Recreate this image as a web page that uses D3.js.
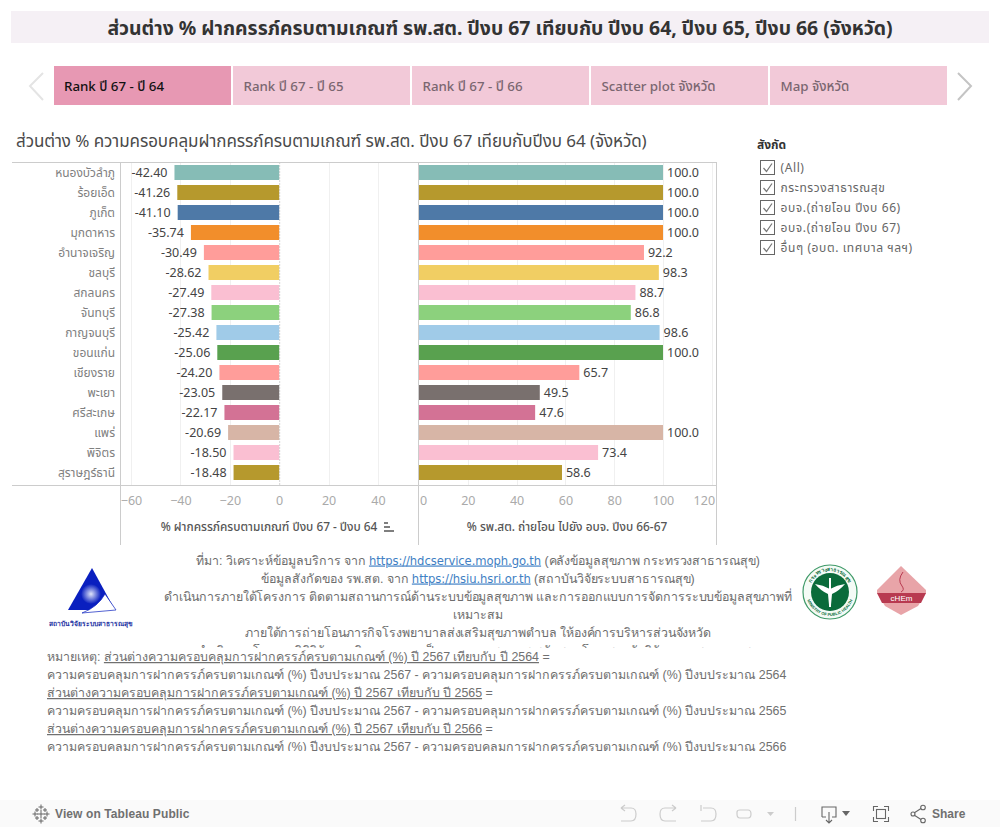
<!DOCTYPE html>
<html lang="th"><head><meta charset="utf-8">
<script src="https://cdnjs.cloudflare.com/ajax/libs/d3/7.8.5/d3.min.js"></script>
<style>
html,body{margin:0;padding:0;background:#fff;overflow:hidden}
svg{display:block}
text{font-family:"Noto Sans","Noto Sans Thai",Roboto,sans-serif}
text.plain{font-family:"Liberation Sans","Noto Sans",sans-serif}
tspan.url{font-family:"DejaVu Sans",sans-serif;font-size:11.6px}
</style></head><body>
<div id="chart"></div>
<script>
const provinces=["หนองบัวลำภู","ร้อยเอ็ด","ภูเก็ต","มุกดาหาร","อำนาจเจริญ","ชลบุรี","สกลนคร","จันทบุรี","กาญจนบุรี","ขอนแก่น","เชียงราย","พะเยา","ศรีสะเกษ","แพร่","พิจิตร","สุราษฎร์ธานี"];
const diffValues=[-42.40,-41.26,-41.10,-35.74,-30.49,-28.62,-27.49,-27.38,-25.42,-25.06,-24.20,-23.05,-22.17,-20.69,-18.50,-18.48];
const transferValues=[100,100,100,100,92.2,98.3,88.7,86.8,98.6,100,65.7,49.5,47.6,100,73.4,58.6];
const barColors=["#86bcb6","#b6992d","#4e79a7","#f28e2b","#ff9d9a","#f1ce63","#fabfd2","#8cd17d","#a0cbe8","#59a14f","#ff9d9a","#79706e","#d37295","#d7b5a6","#fabfd2","#b6992d"];
const diffTicks=[-60,-40,-20,0,20,40];
const transferTicks=[0,20,40,60,80,100,120];
const tabLabels=["Rank ปี 67 - ปี 64","Rank ปี 67 - ปี 65","Rank ปี 67 - ปี 66","Scatter plot จังหวัด","Map จังหวัด"];
const filterLabels=["(All)","กระทรวงสาธารณสุข","อบจ.(ถ่ายโอน ปีงบ 66)","อบจ.(ถ่ายโอน ปีงบ 67)","อื่นๆ (อบต. เทศบาล ฯลฯ)"];
const mainTitle="ส่วนต่าง % ฝากครรภ์ครบตามเกณฑ์ รพ.สต. ปีงบ 67 เทียบกับ ปีงบ 64, ปีงบ 65, ปีงบ 66 (จังหวัด)";
const chartTitle="ส่วนต่าง % ความครอบคลุมฝากครรภ์ครบตามเกณฑ์ รพ.สต. ปีงบ 67 เทียบกับปีงบ 64 (จังหวัด)";
const diffAxisTitle="% ฝากครรภ์ครบตามเกณฑ์ ปีงบ 67 - ปีงบ 64";
const transferAxisTitle="% รพ.สต. ถ่ายโอน ไปยัง อบจ. ปีงบ 66-67";
const sourceLines=[
 [["ที่มา: วิเคราะห์ข้อมูลบริการ จาก ",0],["https://hdcservice.moph.go.th",1],[" (คลังข้อมูลสุขภาพ กระทรวงสาธารณสุข)",0]],
 [["ข้อมูลสังกัดของ รพ.สต. จาก ",0],["https://hsiu.hsri.or.th",1],[" (สถาบันวิจัยระบบสาธารณสุข)",0]],
 [["ดำเนินการภายใต้โครงการ ติดตามสถานการณ์ด้านระบบข้อมูลสุขภาพ และการออกแบบการจัดการระบบข้อมูลสุขภาพที่",0]],
 [["เหมาะสม",0]],
 [["ภายใต้การถ่ายโอนภารกิจโรงพยาบาลส่งเสริมสุขภาพตำบล ให้องค์การบริหารส่วนจังหวัด",0]],
 [["ดำเนินการโดย มูลนิธิวิจัยและติดตามความเป็นธรรมทางสุขภาพ สนับสนุนโดย สถาบันวิจัยระบบสาธารณสุข",0]]
];
const noteLines=[
 [["หมายเหตุ: ",0],["ส่วนต่างความครอบคลุมการฝากครรภ์ครบตามเกณฑ์ (%) ปี 2567 เทียบกับ ปี 2564",2],[" =",0]],
 [["ความครอบคลุมการฝากครรภ์ครบตามเกณฑ์ (%) ปีงบประมาณ 2567 - ความครอบคลุมการฝากครรภ์ครบตามเกณฑ์ (%) ปีงบประมาณ 2564",0]],
 [["ส่วนต่างความครอบคลุมการฝากครรภ์ครบตามเกณฑ์ (%) ปี 2567 เทียบกับ ปี 2565",2],[" =",0]],
 [["ความครอบคลุมการฝากครรภ์ครบตามเกณฑ์ (%) ปีงบประมาณ 2567 - ความครอบคลุมการฝากครรภ์ครบตามเกณฑ์ (%) ปีงบประมาณ 2565",0]],
 [["ส่วนต่างความครอบคลุมการฝากครรภ์ครบตามเกณฑ์ (%) ปี 2567 เทียบกับ ปี 2566",2],[" =",0]],
 [["ความครอบคลุมการฝากครรภ์ครบตามเกณฑ์ (%) ปีงบประมาณ 2567 - ความครอบคลุมการฝากครรภ์ครบตามเกณฑ์ (%) ปีงบประมาณ 2566",0]]
];

const W=1000,H=827;
const svg=d3.select("#chart").append("svg").attr("width",W).attr("height",H).attr("viewBox",`0 0 ${W} ${H}`);
const defs=svg.append("defs");
defs.append("clipPath").attr("id","clipSource").append("rect").attr("x",0).attr("y",545).attr("width",W).attr("height",103);
defs.append("clipPath").attr("id","clipNote").append("rect").attr("x",0).attr("y",648).attr("width",W).attr("height",103);
const sphere=defs.append("radialGradient").attr("id","sphere");
sphere.append("stop").attr("offset","0%").attr("stop-color","#dfe4fa");
sphere.append("stop").attr("offset","100%").attr("stop-color","#0a1fbf");
defs.append("path").attr("id","ringBottom").attr("d","M-24,0 A24,24 0 0,0 24,0");
defs.append("path").attr("id","ringTop").attr("d","M-21,0 A21,21 0 0,1 21,0");

// header
svg.append("rect").attr("x",11).attr("y",11).attr("width",978).attr("height",32).attr("fill","#f5f0f5");
svg.append("text").attr("x",500).attr("y",35).attr("text-anchor","middle").attr("font-size",19.4).attr("font-weight",700).attr("fill","#333").text(mainTitle);

// tabs
const tabX=d3.scaleBand().domain(d3.range(tabLabels.length)).range([54,949]).paddingInner(0);
const tabs=svg.selectAll("g.tab").data(tabLabels).join("g").attr("class","tab").attr("transform",(d,i)=>`translate(${tabX(i)},66)`);
tabs.append("rect").attr("width",177).attr("height",39).attr("fill",(d,i)=>i===0?"#e798b3":"#f2c9d8");
tabs.append("text").attr("x",(d,i)=>i===0?10:10.5).attr("y",25).attr("font-size",13.3).attr("font-weight",500).attr("fill",(d,i)=>i===0?"#111":"#7a6670").text(d=>d);
svg.append("path").attr("d","M43,73 L30,86 L43,100").attr("fill","none").attr("stroke","#e4e4e4").attr("stroke-width",2);
svg.append("path").attr("d","M958,73 L971,86 L958,100").attr("fill","none").attr("stroke","#c4c4c4").attr("stroke-width",2);

// chart title
svg.append("text").attr("x",16).attr("y",147).attr("font-size",17).attr("letter-spacing",-.07).attr("fill","#4a4a4a").text(chartTitle);

// scales
const y=d3.scaleBand().domain(provinces).range([162.5,482.5]).paddingInner(0.25).paddingOuter(0.125);
const xL=d3.scaleLinear().domain([-60,40]).range([131,378]);
const xR=d3.scaleLinear().domain([0,100]).range([419,663]);
const plotTop=162.5,plotBottom=485.5,axisEnd=545;

function grid(scale,ticks){
  svg.append("g").selectAll("line").data(ticks).join("line")
   .attr("x1",d=>Math.round(scale(d))+.5).attr("x2",d=>Math.round(scale(d))+.5).attr("y1",plotTop).attr("y2",plotBottom)
   .attr("stroke","#f0f0f0");
}
grid(xL,diffTicks.filter(d=>d!==0));
grid(xR,transferTicks.filter(d=>d!==0));

// left bars
svg.append("g").selectAll("rect").data(provinces).join("rect")
 .attr("x",(d,i)=>xL(diffValues[i])).attr("y",d=>y(d)).attr("height",y.bandwidth())
 .attr("width",(d,i)=>xL(0)-xL(diffValues[i])).attr("fill",(d,i)=>barColors[i]);
svg.append("line").attr("x1",xL(0)+.5).attr("x2",xL(0)+.5).attr("y1",plotTop).attr("y2",plotBottom).attr("stroke","#aaa").attr("stroke-dasharray","1 2");
svg.append("g").selectAll("text").data(provinces).join("text")
 .attr("x",(d,i)=>xL(diffValues[i])-7).attr("y",d=>y(d)+y.bandwidth()/2+4.5)
 .attr("text-anchor","end").attr("font-size",12.5).attr("fill","#444").text((d,i)=>diffValues[i].toFixed(2));

// right bars
svg.append("g").selectAll("rect").data(provinces).join("rect")
 .attr("x",xR(0)).attr("y",d=>y(d)).attr("height",y.bandwidth())
 .attr("width",(d,i)=>xR(transferValues[i])-xR(0)).attr("fill",(d,i)=>barColors[i]);
svg.append("g").selectAll("text").data(provinces).join("text")
 .attr("x",(d,i)=>xR(transferValues[i])+4).attr("y",d=>y(d)+y.bandwidth()/2+4.5)
 .attr("font-size",12.5).attr("fill","#444").text((d,i)=>transferValues[i].toFixed(1));

// province axis labels
svg.append("g").selectAll("text").data(provinces).join("text")
 .attr("x",115).attr("y",d=>y(d)+y.bandwidth()/2+4)
 .attr("text-anchor","end").attr("font-size",12).attr("fill","#808080").text(d=>d);

// frame
const frame=svg.append("g").attr("stroke","#cccccc").attr("fill","none");
frame.append("line").attr("x1",12).attr("x2",717).attr("y1",plotTop).attr("y2",plotTop);
frame.append("line").attr("x1",12).attr("x2",717).attr("y1",plotBottom).attr("y2",plotBottom);
[120.5,418.5,716.5].forEach(x=>frame.append("line").attr("x1",x).attr("x2",x).attr("y1",plotTop).attr("y2",axisEnd));

// axes
function axis(scale,ticks){
  const g=svg.append("g").attr("transform",`translate(0,${plotBottom})`)
   .call(d3.axisBottom(scale).tickValues(ticks).tickSize(0).tickPadding(11).tickFormat(d3.format("d")));
  g.select(".domain").remove();
  g.selectAll("text").attr("font-size",12.5).attr("fill","#aaa").style("font-family",'"Noto Sans",sans-serif');
  return g;
}
const aL=axis(xL,diffTicks);
const aR=axis(xR,transferTicks);
aR.selectAll("text").filter(d=>d===0).attr("dx",4);
aR.selectAll("text").filter(d=>d===120).attr("dx",-8);

svg.append("text").attr("x",269).attr("y",531).attr("text-anchor","middle").attr("font-size",11.8).attr("font-weight",500).attr("fill","#555").text(diffAxisTitle);
svg.append("text").attr("x",567).attr("y",531).attr("text-anchor","middle").attr("font-size",11.8).attr("font-weight",500).attr("fill","#555").text(transferAxisTitle);
svg.append("path").attr("d","M384,523h4M384,527h6M384,531h10").attr("stroke","#555").attr("stroke-width",1.5).attr("fill","none");

// legend
svg.append("text").attr("x",757).attr("y",149).attr("font-size",12).attr("font-weight",700).attr("fill","#333").text("สังกัด");
const items=svg.selectAll("g.item").data(filterLabels).join("g").attr("class","item").attr("transform",(d,i)=>`translate(760.5,${160.5+i*20})`);
items.append("rect").attr("width",14).attr("height",14).attr("fill","#fff").attr("stroke","#666");
items.append("path").attr("d","M3,7.5 L6,11 L11.5,3").attr("fill","none").attr("stroke","#777").attr("stroke-width",1.2);
items.append("text").attr("x",20).attr("y",11.5).attr("font-size",12).attr("letter-spacing",.6).attr("fill","#666").text(d=>d);

// source and note blocks
function addLines(group,lines,yFor,anchor,x,color,spacing){
  lines.forEach((ln,i)=>{
    const t=group.append("text").attr("class","plain").attr("x",x).attr("y",yFor(i)).attr("text-anchor",anchor).attr("font-size",12.4).attr("letter-spacing",spacing).attr("fill",color);
    ln.forEach(([s,k])=>{
      const sp=t.append("tspan").text(s);
      if(k===1) sp.attr("class","url").attr("fill","#3f7fc4").attr("text-decoration","underline");
      if(k===2) sp.attr("text-decoration","underline");
    });
  });
}
const src=svg.append("g").attr("clip-path","url(#clipSource)");
addLines(src,sourceLines,i=>564.5+i*18,"middle",478,"#6e6e6e",-.08);
const note=svg.append("g").attr("clip-path","url(#clipNote)");
addLines(note,noteLines,i=>661+i*18,"start",47,"#707070",0);

// logos
const l1=svg.append("g");
l1.append("path").attr("d","M92,568 L115,610 L68,610 Z").attr("fill","#0a1fbf");
l1.append("circle").attr("cx",91).attr("cy",594).attr("r",10).attr("fill","url(#sphere)");
l1.append("path").attr("d","M105,594 L116,610 L82,613 Q98,607 105,594Z").attr("fill","#fff").attr("stroke","#0a1fbf").attr("stroke-width",.7);
l1.append("text").attr("class","plain").attr("x",90.5).attr("y",626).attr("text-anchor","middle").attr("font-size",6.7).attr("font-weight",700).attr("fill","#1a2f9f").text("สถาบันวิจัยระบบสาธารณสุข");
const l2=svg.append("g").attr("transform","translate(830,592)");
l2.append("circle").attr("r",27).attr("fill","#f4fbf6").attr("stroke","#3f9a68").attr("stroke-width",1.2);
l2.append("circle").attr("r",19).attr("fill","#0a6b3a");
l2.append("path").attr("d","M-15,-8 Q-9,-1 -2,2 L-1,13 L1,13 L2,2 Q9,-1 15,-8 Q7,-7 0,-3 Q-7,-7 -15,-8Z").attr("fill","#fff");
l2.append("rect").attr("x",-1).attr("y",-14).attr("width",2).attr("height",29).attr("fill","#fff");
l2.append("text").attr("class","plain").attr("font-size",4).attr("font-weight",700).attr("fill","#0a6b3a")
  .append("textPath").attr("href","#ringBottom").attr("startOffset","50%").attr("text-anchor","middle").text("MINISTRY OF PUBLIC HEALTH");
l2.append("text").attr("class","plain").attr("font-size",5).attr("font-weight",700).attr("fill","#0a6b3a")
  .append("textPath").attr("href","#ringTop").attr("startOffset","50%").attr("text-anchor","middle").text("กระทรวงสาธารณสุข");
const l3=svg.append("g");
l3.append("path").attr("d","M901,566 L926,590 L926,593 L918,606 L901,615 L885,606 L877,593 L877,590 Z").attr("fill","#e8a4a8");
l3.append("path").attr("d","M877,593 L926,593 L921,603 L882,603 Z").attr("fill","#b83a50");
l3.append("text").attr("class","plain").attr("x",901.500).attr("y",601).attr("text-anchor","middle").attr("font-size",8).attr("fill","#fff").text("cHEm");
l3.append("path").attr("d","M903,572 Q897,580 902,586 Q905,590 901,592").attr("fill","none").attr("stroke","#b83a50");

// footer toolbar
svg.append("rect").attr("x",0).attr("y",800).attr("width",W).attr("height",27).attr("fill","#fafafa");
svg.append("text").attr("class","plain").attr("x",55).attr("y",818).attr("font-size",12).attr("font-weight",700).attr("letter-spacing",.1).attr("fill","#707070").text("View on Tableau Public");
const plus=[[41,814,4],[35,814,2.5],[47,814,2.5],[41,807,2.5],[41,821,2.5],[37,810,2],[45,810,2],[37,818,2],[45,818,2]];
svg.append("path").attr("d",plus.map(([x,y,r])=>`M${x-r},${y}h${2*r}M${x},${y-r}v${2*r}`).join("")).attr("stroke","#666").attr("fill","none");
svg.append("text").attr("class","plain").attr("x",932).attr("y",818).attr("font-size",12).attr("font-weight",700).attr("fill","#707070").text("Share");
const ic=svg.append("g").attr("fill","none").attr("stroke","#ccc").attr("stroke-width",1.2);
ic.append("path").attr("d","M621,808 H631 Q636,808 636,814 Q636,821 631,821 H621 M621,808 l4,-3 M621,808 l4,3");
ic.append("path").attr("d","M676,808 H665 Q660,808 660,814 Q660,821 665,821 H676 M676,808 l-4,-3 M676,808 l-4,3");
ic.append("path").attr("d","M701,805 v6 M703,808 H711 Q716,808 716,814 Q716,821 711,821 H701");
ic.append("path").attr("d","M737,812 Q737,810 740,810 H748 Q751,810 751,814 Q751,818 748,818 H740 Q737,818 737,814 Z");
ic.append("path").attr("d","M795.500,807 V821");
svg.append("path").attr("d","M767,812 h7 l-3.500,4 Z").attr("fill","#ccc");
const ic2=svg.append("g").attr("fill","none").attr("stroke","#666").attr("stroke-width",1.1);
ic2.append("path").attr("d","M822,817 V807 H836 V817 H832 M826,817 H822 M829,812 V823 M826,820 L829,823 L832,820");
ic2.append("path").attr("d","M873.500,811 V806.500 H878 M884,806.500 H888.500 V811 M888.500,817 V821.500 H884 M878,821.500 H873.500 V817");
ic2.append("rect").attr("x",876.500).attr("y",809.500).attr("width",9).attr("height",9);
ic2.append("path").attr("d","M914,813 L921,808.500 M914,815 L921,819.500");
ic2.append("circle").attr("cx",913).attr("cy",814).attr("r",2);
ic2.append("circle").attr("cx",923).attr("cy",807.500).attr("r",2.3);
ic2.append("circle").attr("cx",923).attr("cy",820.500).attr("r",2.3);
svg.append("path").attr("d","M842,811 h8 l-4,5 Z").attr("fill","#666");
</script>
</body></html>
